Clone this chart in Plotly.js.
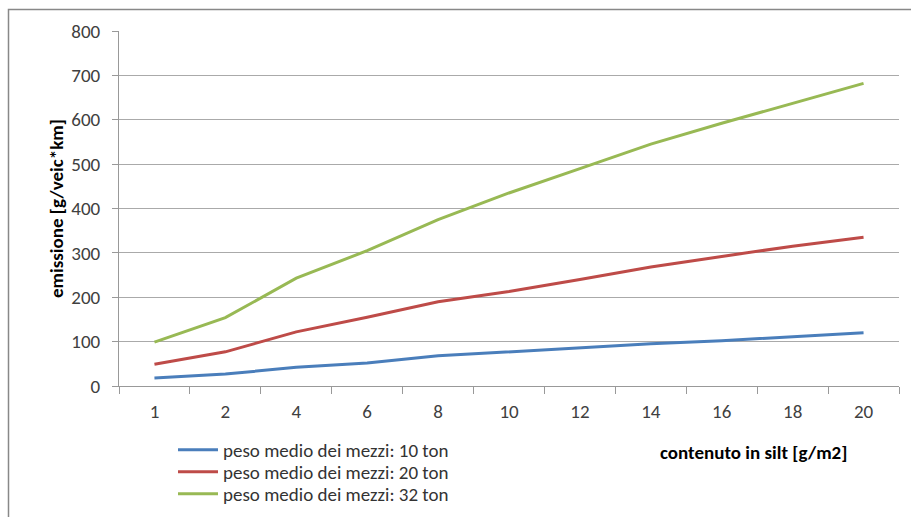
<!DOCTYPE html>
<html><head><meta charset="utf-8">
<script src="https://cdn.plot.ly/plotly-3.0.1.min.js"></script>
<style>body{margin:0;background:#fff}#chart{width:911px;height:517px}</style>
</head><body><div id="chart"></div>
<script>
const categories = ['1','2','4','6','8','10','12','14','16','18','20'];
const ton10 = [18, 27, 42, 52, 68, 77, 86, 95, 102, 111, 120];
const ton20 = [49, 77, 122, 155, 190, 213, 240, 268, 292, 315, 335];
const ton32 = [99, 154, 243, 305, 375, 435, 490, 545, 592, 637, 682];
const seriesNames = ['peso medio dei mezzi: 10 ton','peso medio dei mezzi: 20 ton','peso medio dei mezzi: 32 ton'];
const colors = ['#4A7EBB','#BE4B48','#98B954'];
const font = 'Carlito, Calibri, "Open Sans", "Liberation Sans", sans-serif';
const legendIds = ['legend','legend2','legend3'];

const traces = [ton10, ton20, ton32].map((v,i)=>({
  x: categories, y: v, type:'scatter', mode:'lines', name: seriesNames[i],
  line:{color:colors[i], width:3}, legend: legendIds[i]
}));

const L=119, R=899, T=31, B=386, W=911, H=517;
const px = x => (x-L)/(R-L);
const py = y => (B-y)/(B-T);
const legendRowY = [450, 472, 494];

const layout = {
  width:W, height:H,
  margin:{l:L, r:W-R, t:T, b:H-B, autoexpand:false},
  paper_bgcolor:'#fff', plot_bgcolor:'#fff',
  font:{family:font, size:19, color:'#404040'},
  showlegend:true,
  xaxis:{type:'category', range:[-0.5,10.5], tickson:'boundaries', ticks:'outside', ticklen:7,
    tickcolor:'#999', showline:true, linecolor:'#999', showgrid:false, zeroline:false,
    tickfont:{size:19, color:'#404040'}, ticklabelstandoff:8, fixedrange:true},
  yaxis:{range:[0,800], dtick:100, ticks:'outside', ticklen:6, tickcolor:'#999',
    showline:true, linecolor:'#999', showgrid:true, gridcolor:'#aaa', zeroline:false,
    tickfont:{size:19, color:'#404040'}, ticklabelstandoff:8},
  annotations:[
    {text:'<b>contenuto in silt [g/m2]</b>', xref:'paper', yref:'paper', x:px(753), y:py(452),
     xanchor:'center', yanchor:'middle', showarrow:false, font:{family:font, size:19, color:'#000'}},
    {text:'<b>emissione [g/veic*km]</b>', xref:'paper', yref:'paper', x:px(56), y:py(209),
     xanchor:'center', yanchor:'middle', textangle:-90, showarrow:false, font:{family:font, size:19, color:'#000'}}
  ],
  shapes:[
    {type:'rect', xref:'paper', yref:'paper', x0:px(8.5), x1:px(925), y0:py(530), y1:py(9.5),
     line:{color:'#888', width:1.5}, fillcolor:'rgba(0,0,0,0)', layer:'below'}
  ]
};
legendIds.forEach((id,i)=>{
  layout[id] = {x:px(173), y:py(legendRowY[i]), xanchor:'left', yanchor:'middle', orientation:'v',
    font:{family:font, size:19, color:'#333'}, itemwidth:40, bgcolor:'rgba(0,0,0,0)',
    borderwidth:0};
});
Plotly.newPlot('chart', traces, layout, {displayModeBar:false, staticPlot:true});
</script></body></html>
